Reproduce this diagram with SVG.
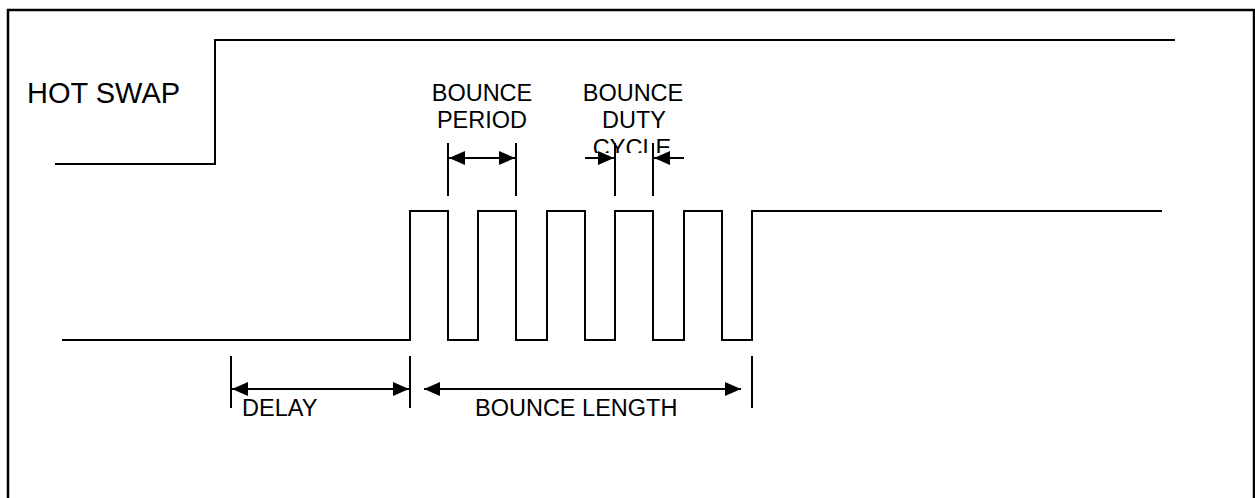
<svg xmlns="http://www.w3.org/2000/svg" width="1255" height="498" viewBox="0 0 1255 498">
<style>
.w{fill:none;stroke:#000;stroke-width:2;stroke-linejoin:miter}
.d{fill:none;stroke:#000;stroke-width:2}
.t{font-family:"Liberation Sans",Arial,sans-serif;font-size:23.5px;fill:#000}
.h{font-family:"Liberation Sans",Arial,sans-serif;font-size:29px;fill:#000}
</style>
<defs>
<marker id="ah" viewBox="0 0 16 14" refX="16" refY="7" markerWidth="16" markerHeight="14" markerUnits="userSpaceOnUse" orient="auto-start-reverse">
<path d="M0,0 L16,7 L0,14 Z" fill="#000"/>
</marker>
<clipPath id="cc"><rect x="560" y="120" width="140" height="33"/></clipPath>
</defs>
<rect x="8" y="10" width="1246" height="500" fill="#fff" stroke="#000" stroke-width="2.5"/>
<g id="hotswap">
<path class="w" d="M55,164 H215 V40 H1175"/>
<text class="h" x="27" y="103">HOT SWAP</text>
</g>
<g id="bounce">
<path class="w" d="M62,340 H410 V211 H448 V340 H478 V211 H516 V340 H547 V211 H585 V340 H615 V211 H653 V340 H684 V211 H722 V340 H752 V211 H1162"/>
</g>
<g id="labels">
<text class="t" x="482" y="101" text-anchor="middle">BOUNCE</text>
<text class="t" x="482" y="128" text-anchor="middle">PERIOD</text>
<text class="t" x="633" y="101" text-anchor="middle">BOUNCE</text>
<text class="t" x="634" y="128" text-anchor="middle">DUTY</text>
<text class="t" x="632" y="156" text-anchor="middle" clip-path="url(#cc)">CYCLE</text>
<text class="t" x="242" y="416">DELAY</text>
<text class="t" x="475" y="416">BOUNCE LENGTH</text>
</g>
<g id="connectors">
<path class="d" d="M448,143 V196 M516,143 V196 M615,143 V196 M653,143 V196"/>
<path class="d" d="M449,158 H515" marker-start="url(#ah)" marker-end="url(#ah)"/>
<path class="d" d="M585,158 H614" marker-end="url(#ah)"/>
<path class="d" d="M684,158 H654" marker-end="url(#ah)"/>
<path class="d" d="M231,356 V408 M410,356 V408 M752,356 V408"/>
<path class="d" d="M232,389 H409" marker-start="url(#ah)" marker-end="url(#ah)"/>
<path class="d" d="M424,389 H741" marker-start="url(#ah)" marker-end="url(#ah)"/>
</g>
</svg>
